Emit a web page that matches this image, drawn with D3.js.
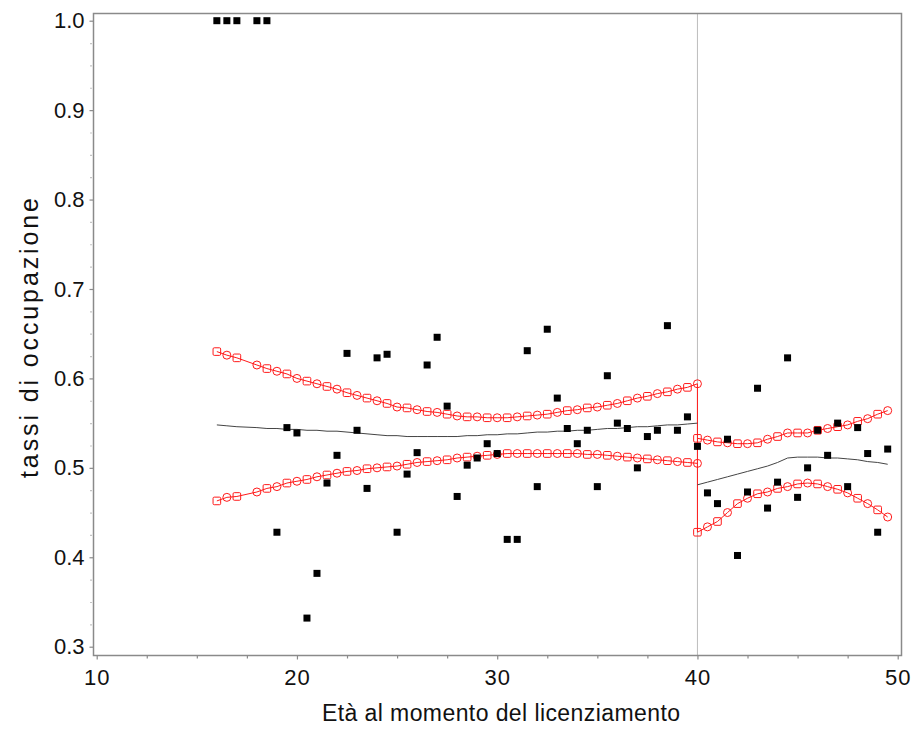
<!DOCTYPE html>
<html>
<head>
<meta charset="utf-8">
<script src="https://cdn.jsdelivr.net/npm/d3@7"></script>
<style>
  html, body { margin: 0; padding: 0; background: #fff; }
  svg { display: block; }
  text { font-family: "Liberation Sans", Arial, sans-serif; fill: #111; }
</style>
</head>
<body>
<svg id="chart" width="915" height="729"></svg>
<script>
// Observed employment rates by age at dismissal (half-year steps)
const ages = [16,16.5,17,18,18.5,19,19.5,20,20.5,21,21.5,22,22.5,23,23.5,24,24.5,25,25.5,26,26.5,27,27.5,28,28.5,29,29.5,30,30.5,31,31.5,32,32.5,33,33.5,34,34.5,35,35.5,36,36.5,37,37.5,38,38.5,39,39.5,40,40.5,41,41.5,42,42.5,43,43.5,44,44.5,45,45.5,46,46.5,47,47.5,48,48.5,49,49.5];
const rates = [1.0,1.0,1.0,1.0,1.0,0.428,0.545,0.539,0.332,0.382,0.483,0.514,0.628,0.542,0.477,0.623,0.627,0.428,0.493,0.517,0.615,0.646,0.569,0.468,0.503,0.511,0.527,0.516,0.420,0.420,0.631,0.479,0.655,0.578,0.544,0.527,0.542,0.479,0.603,0.550,0.544,0.500,0.535,0.542,0.659,0.542,0.557,0.524,0.472,0.460,0.532,0.402,0.473,0.589,0.455,0.484,0.623,0.467,0.500,0.542,0.514,0.550,0.479,0.545,0.516,0.428,0.521];

// Fitted values and confidence bands, below the cutoff (age <= 40)
const fitAgesLeft = [16,16.5,17,18,18.5,19,19.5,20,20.5,21,21.5,22,22.5,23,23.5,24,24.5,25,25.5,26,26.5,27,27.5,28,28.5,29,29.5,30,30.5,31,31.5,32,32.5,33,33.5,34,34.5,35,35.5,36,36.5,37,37.5,38,38.5,39,39.5,40];
const fitLeft = [0.548,0.547,0.546,0.545,0.544,0.544,0.543,0.543,0.542,0.542,0.541,0.541,0.540,0.539,0.538,0.537,0.536,0.536,0.535,0.535,0.535,0.535,0.535,0.535,0.536,0.536,0.537,0.537,0.538,0.538,0.539,0.540,0.540,0.541,0.541,0.542,0.542,0.543,0.544,0.544,0.545,0.546,0.546,0.547,0.548,0.548,0.549,0.550];
const upperLeft = [0.630,0.626,0.623,0.615,0.611,0.608,0.605,0.600,0.597,0.594,0.591,0.588,0.584,0.581,0.578,0.575,0.572,0.568,0.567,0.565,0.563,0.562,0.560,0.558,0.557,0.557,0.556,0.556,0.556,0.557,0.558,0.559,0.560,0.562,0.564,0.565,0.567,0.568,0.570,0.572,0.575,0.578,0.580,0.583,0.585,0.588,0.590,0.594];
const lowerLeft = [0.463,0.467,0.468,0.473,0.477,0.479,0.483,0.485,0.487,0.490,0.492,0.494,0.496,0.497,0.499,0.500,0.501,0.502,0.504,0.506,0.507,0.508,0.509,0.511,0.512,0.513,0.514,0.515,0.516,0.516,0.516,0.516,0.516,0.516,0.516,0.516,0.515,0.515,0.514,0.513,0.512,0.511,0.510,0.509,0.508,0.507,0.506,0.505];

// Fitted values and confidence bands, above the cutoff (age >= 40)
const fitAgesRight = [40,40.5,41,41.5,42,42.5,43,43.5,44,44.5,45,45.5,46,46.5,47,47.5,48,48.5,49,49.5];
const fitRight = [0.481,0.484,0.487,0.490,0.493,0.496,0.499,0.502,0.506,0.511,0.512,0.512,0.512,0.511,0.511,0.510,0.509,0.507,0.506,0.504];
const upperRight = [0.533,0.531,0.529,0.528,0.527,0.527,0.528,0.532,0.535,0.539,0.539,0.539,0.542,0.544,0.546,0.548,0.552,0.555,0.560,0.564];
const lowerRight = [0.428,0.434,0.440,0.450,0.460,0.466,0.471,0.473,0.477,0.479,0.482,0.483,0.482,0.479,0.476,0.472,0.466,0.460,0.453,0.445];

const cutoff = 40;
const xTicks = [10,20,30,40,50];
const xMinorTicks = [12.5,15,17.5,22.5,25,27.5,32.5,35,37.5,42.5,45,47.5];
const yTicks = [0.3,0.4,0.5,0.6,0.7,0.8,0.9,1.0];
const yMinorTicks = d3.range(0.325, 1.0, 0.025).filter(v => Math.abs(Math.round(v * 10) - v * 10) > 0.01);

const xTitle = "Età al momento del licenziamento";
const yTitle = "tassi di occupazione";

const svg = d3.select("#chart");
const frame = { left: 93.5, right: 901.5, top: 13.5, bottom: 655.5 };

const x = d3.scaleLinear().domain([10, 50]).range([96.7, 897.7]);
const y = d3.scaleLinear().domain([0.3, 1.0]).range([646.7, 20.7]);

svg.append("rect").attr("width", 915).attr("height", 729).attr("fill", "#fff");

// reference line at the cutoff
svg.append("line")
  .attr("x1", x(cutoff)).attr("x2", x(cutoff))
  .attr("y1", frame.top).attr("y2", frame.bottom)
  .attr("stroke", "#bdbdbd").attr("stroke-width", 1);

// axes
const axisColor = "#8a8a8a";
const gx = svg.append("g").attr("transform", `translate(0,${frame.bottom})`)
  .call(d3.axisBottom(x).tickValues(xTicks).tickSize(4).tickPadding(10).tickFormat(d3.format("d")));
const gxm = svg.append("g").attr("transform", `translate(0,${frame.bottom})`)
  .call(d3.axisBottom(x).tickValues(xMinorTicks).tickSize(3).tickFormat(""));
const gy = svg.append("g").attr("transform", `translate(${frame.left},0)`)
  .call(d3.axisLeft(y).tickValues(yTicks).tickSize(4).tickPadding(5).tickFormat(d3.format(".1f")));
const gym = svg.append("g").attr("transform", `translate(${frame.left},0)`)
  .call(d3.axisLeft(y).tickValues(yMinorTicks).tickSize(2).tickFormat(""));

[gx, gxm, gy, gym].forEach(g => {
  g.select(".domain").remove();
  g.selectAll(".tick line").attr("stroke", axisColor).attr("stroke-width", 1.2);
  g.selectAll("text").attr("font-size", 22).attr("fill", "#111")
    .attr("font-family", "'Liberation Sans', Arial, sans-serif");
});
gx.selectAll("text").attr("letter-spacing", 1);
gym.selectAll(".tick line").attr("x1", -3).attr("x2", -2);

// plot frame
svg.append("rect")
  .attr("x", frame.left).attr("y", frame.top)
  .attr("width", frame.right - frame.left).attr("height", frame.bottom - frame.top)
  .attr("fill", "none").attr("stroke", axisColor).attr("stroke-width", 1.5);

// axis titles
svg.append("text")
  .attr("x", 501).attr("y", 721)
  .attr("text-anchor", "middle").attr("font-size", 23)
  .attr("textLength", 358).attr("lengthAdjust", "spacing")
  .text(xTitle);

svg.append("text")
  .attr("transform", `translate(38,338) rotate(-90)`)
  .attr("text-anchor", "middle").attr("font-size", 25)
  .attr("textLength", 280).attr("lengthAdjust", "spacing")
  .text(yTitle);

const line = d3.line().x(d => x(d[0])).y(d => y(d[1]));

// confidence bands (red), joined by a vertical step at the cutoff
const red = "#ff1a1a";
const bands = [
  d3.zip(fitAgesLeft, upperLeft),
  d3.zip(fitAgesLeft, lowerLeft),
  d3.zip(fitAgesRight, upperRight),
  d3.zip(fitAgesRight, lowerRight)
];
bands.forEach(b => {
  svg.append("path").datum(b).attr("d", line)
    .attr("fill", "none").attr("stroke", red).attr("stroke-width", 1);
});
svg.append("path")
  .datum([[cutoff, d3.max([upperLeft[upperLeft.length - 1], upperRight[0]])],
          [cutoff, d3.min([lowerLeft[lowerLeft.length - 1], lowerRight[0]])]])
  .attr("d", line).attr("fill", "none").attr("stroke", red).attr("stroke-width", 1);

// fitted lines
[d3.zip(fitAgesLeft, fitLeft), d3.zip(fitAgesRight, fitRight)].forEach(f => {
  svg.append("path").datum(f).attr("d", line)
    .attr("fill", "none").attr("stroke", "#444").attr("stroke-width", 1);
});

// hollow markers on the bands
bands.forEach(b => {
  const g = svg.append("g");
  b.forEach((d, i) => {
    if (i % 2 === 0) {
      g.append("rect")
        .attr("x", x(d[0]) - 3.8).attr("y", y(d[1]) - 3.8)
        .attr("width", 7.6).attr("height", 7.6).attr("rx", 1.2)
        .attr("fill", "none").attr("stroke", red).attr("stroke-width", 1);
    } else {
      g.append("circle")
        .attr("cx", x(d[0])).attr("cy", y(d[1])).attr("r", 4)
        .attr("fill", "none").attr("stroke", red).attr("stroke-width", 1);
    }
  });
});

// observed points
svg.append("g").selectAll("rect")
  .data(d3.zip(ages, rates))
  .join("rect")
  .attr("x", d => x(d[0]) - 3.5)
  .attr("y", d => y(d[1]) - 3.5)
  .attr("width", 7).attr("height", 7)
  .attr("fill", "#000");
</script>
</body>
</html>
